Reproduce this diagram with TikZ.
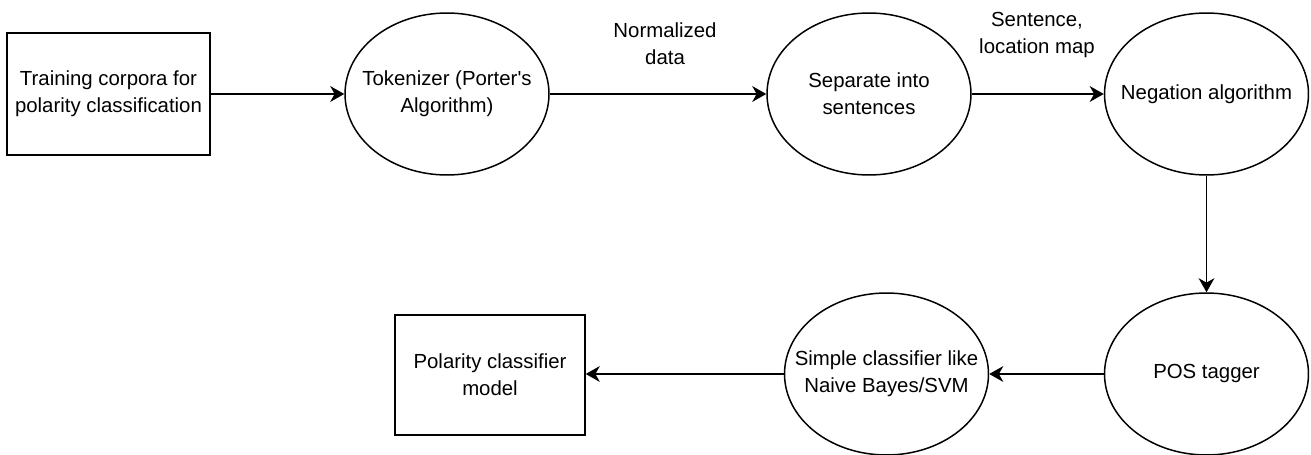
\documentclass[tikz,border=0pt]{standalone}
\usepackage{fontspec}
\setmainfont{Liberation Sans}
\usetikzlibrary{arrows.meta,positioning,shapes.geometric}
\tikzset{
  pcbox/.style={
    rectangle, draw=black, fill=white, line width=0.85pt,
    align=center, inner sep=2pt, font=\pcfont
  },
  pcproc/.style={
    ellipse, draw=black, fill=white, line width=0.85pt,
    minimum width=4.08cm, minimum height=3.24cm,
    align=center, inner xsep=-12pt, inner ysep=1pt, font=\pcfont
  },
  pcedge/.style={-{Stealth[length=8pt,width=9pt,inset=2.5pt]},line width=0.85pt},
  pclabel/.style={font=\pcfont,align=center,inner sep=1pt}
}
\newcommand{\pcfont}{\fontsize{11.6}{15.2}\selectfont}

\begin{document}
\begin{tikzpicture}[x=0.02cm,y=-0.02cm]
\useasboundingbox (0,0) rectangle (1311,455);
% Top row: corpus in, three processing stages
\node[pcbox,minimum width=4.06cm,minimum height=2.44cm] (corpus) at (108.5,94) {Training corpora for\\polarity classification};
\node[pcproc] (tok) at (447,94) {Tokenizer (Porter\textquotesingle s\\Algorithm)};
\node[pcproc] (sent) at (869,94) {Separate into\\sentences};
\node[pcproc] (neg) at (1206.5,94) {Negation algorithm};
% Bottom row, read right to left
\node[pcproc] (pos) at (1206.5,374) {POS tagger};
\node[pcproc] (clf) at (886.5,374) {Simple classifier like\\Naive Bayes/SVM};
\node[pcbox,minimum width=3.8cm,minimum height=2.4cm] (model) at (490,375) {Polarity classifier\\model};

\draw[pcedge] (corpus) -- (tok);
\draw[pcedge] (tok) -- (sent);
\node[pclabel] (normlab) at (665,44) {Normalized\\data};
\draw[pcedge] (sent) -- (neg);
\node[pclabel] (sentlab) at (1037,35) {Sentence,\\location map};
\draw[pcedge] (neg) -- (pos);
\draw[pcedge] (pos) -- (clf);
\draw[pcedge] (clf) -- (model.east |- clf.west);
\end{tikzpicture}
\end{document}
